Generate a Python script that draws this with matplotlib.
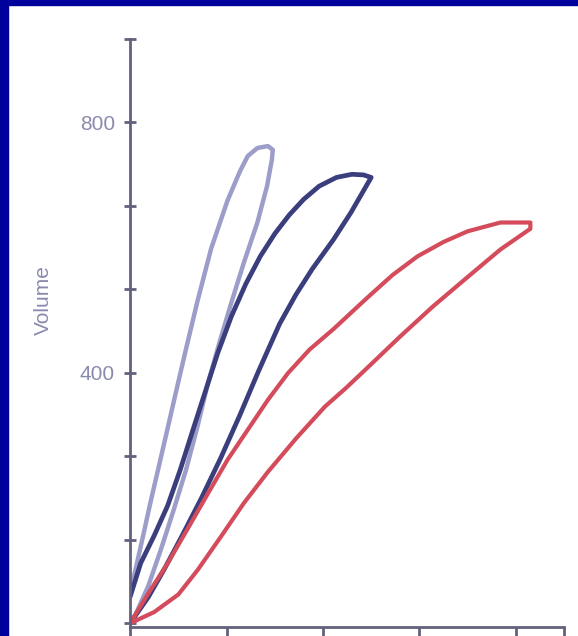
import numpy as np
import matplotlib
matplotlib.use("Agg")
import matplotlib.pyplot as plt
from matplotlib.patches import Rectangle

# Loops: inflation branch from origin to tip, then deflation branch back to the axis
light_x_in = [0, 0.6, 1.9, 3.2, 4.5, 5.8, 7.0, 8.1, 9.3, 10.5, 11.8, 13.2, 14.2, 14.7, 14.8]
light_y_in = [0, 15, 60, 118, 180, 245, 315, 385, 450, 512, 576, 640, 698, 740, 756]
light_x_out = [14.3, 13.2, 12.2, 11.4, 10.1, 8.4, 7.0, 5.8, 4.8, 3.8, 2.9, 2.1, 1.4, 0.7, 0.0]
light_y_out = [762, 759, 746, 722, 675, 598, 515, 438, 372, 305, 245, 192, 143, 95, 48]

navy_x_in = [0, 1.9, 3.6, 5.4, 7.4, 9.4, 11.4, 13.3, 15.5, 17.2, 18.9, 21.1, 22.9, 24.7, 25.0]
navy_y_in = [0, 42, 88, 140, 200, 264, 333, 402, 478, 525, 566, 613, 656, 704, 712]
navy_x_out = [24.2, 23.0, 21.4, 19.6, 18.0, 16.5, 15.0, 13.5, 12.0, 10.5, 9.1, 7.8, 6.5, 5.2, 3.9, 2.5, 1.1, 0.0]
navy_y_out = [716, 717, 712, 698, 677, 652, 622, 586, 542, 490, 432, 370, 308, 245, 188, 140, 96, 42]

red_x_in = [0, 2.5, 5.0, 7.0, 9.4, 11.8, 14.3, 17.2, 20.2, 22.4, 24.6, 28.0, 31.4, 35.0, 38.4, 41.5]
red_y_in = [0, 18, 46, 85, 138, 192, 242, 295, 346, 376, 408, 458, 506, 553, 597, 630]
red_x_out = [41.5, 38.4, 35.0, 32.5, 29.8, 27.2, 24.6, 21.1, 18.6, 16.4, 14.3, 12.2, 10.1, 8.1, 5.9, 3.9, 1.9, 0.0]
red_y_out = [640, 640, 626, 609, 586, 556, 520, 470, 437, 400, 357, 309, 261, 208, 149, 96, 48, 0]

y_ticks = [k * 400 / 3 for k in range(8)]
y_labels = ["", "", "", "400", "", "", "800", ""]
x_ticks = [0, 10, 20, 30, 40, 45]

axis_col = "#62627f"
text_col = "#8a8aae"

plt.rcParams["font.family"] = ["Liberation Sans", "DejaVu Sans"]

fig = plt.figure(figsize=(5.78, 6.36), dpi=100)
fig.patch.set_facecolor("white")

ax = fig.add_axes([0.225, 0.014, 0.751, 0.925])
ax.plot(light_x_in + light_x_out, light_y_in + light_y_out, color="#9d9dca",
        lw=3.2, solid_joinstyle="round", solid_capstyle="round")
ax.plot(navy_x_in + navy_x_out, navy_y_in + navy_y_out, color="#3b3e7c",
        lw=3.4, solid_joinstyle="round", solid_capstyle="round")
ax.plot(red_x_in + red_x_out, red_y_in + red_y_out, color="#d44c5c",
        lw=3.0, solid_joinstyle="round", solid_capstyle="round")

ax.set_xlim(0, 45)
ax.set_ylim(-6, 400 / 3 * 7)

for s in ["top", "right"]:
    ax.spines[s].set_visible(False)
for s in ["left", "bottom"]:
    ax.spines[s].set_color(axis_col)
    ax.spines[s].set_linewidth(2.0)

ax.set_yticks(y_ticks)
ax.set_yticklabels(y_labels)
ax.set_xticks(x_ticks)
ax.set_xticklabels([])
ax.tick_params(axis="y", direction="inout", length=8, width=2, color=axis_col,
               labelcolor=text_col, labelsize=15, pad=7)
ax.tick_params(axis="x", direction="out", length=7, width=2, color=axis_col)

ax.set_ylabel("Volume", color=text_col, fontsize=15)
ax.yaxis.set_label_coords(-0.177, 0.556)

# blue slide frame (left and top)
fig.patches.append(Rectangle((0, 0), 8 / 578, 1, transform=fig.transFigure,
                             color="#00009c", zorder=10))
fig.patches.append(Rectangle((0, 1 - 5 / 636), 1, 5 / 636, transform=fig.transFigure,
                             color="#00009c", zorder=10))

fig.savefig("out.png", dpi=100)
